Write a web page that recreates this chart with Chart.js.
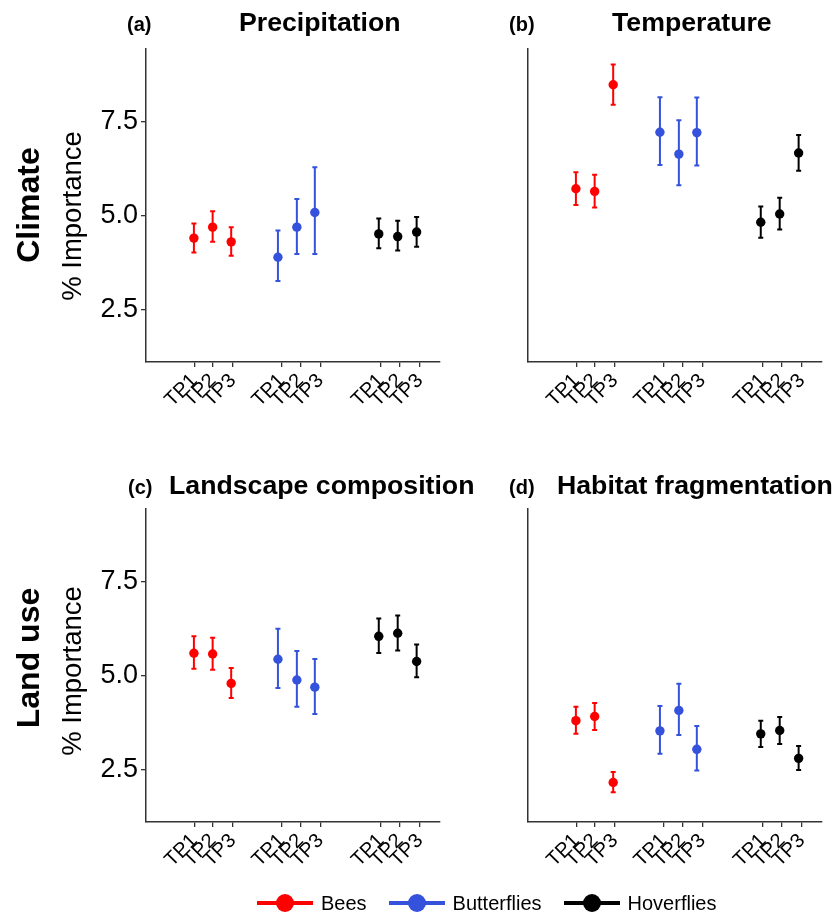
<!DOCTYPE html>
<html>
<head>
<meta charset="utf-8">
<script src="https://cdn.jsdelivr.net/npm/chart.js@4.4.1/dist/chart.umd.min.js"></script>
<style>
  body { margin: 0; background: #fff; }
  #page { position: relative; width: 835px; height: 913px; background: #fff; font-family: "Liberation Sans", Arial, sans-serif; color: #000; overflow: hidden; }
  canvas { position: absolute; }
  .txt { position: absolute; white-space: nowrap; line-height: 1; }
  .rot { position: absolute; white-space: nowrap; line-height: 1; transform: translate(-50%, -50%) rotate(-90deg); }
  #legend { position: absolute; left: 257px; top: 891px; display: flex; align-items: center; height: 24px; }
  .item { display: flex; align-items: center; margin-right: 22px; font-size: 20px; }
  .key { position: relative; width: 56px; height: 4px; margin-right: 8px; }
  .key span { position: absolute; left: 19px; top: -7px; width: 18px; height: 18px; border-radius: 50%; }
</style>
</head>
<body>
<div id="page">
  <canvas id="pa" width="460" height="440" style="left:0;top:0"></canvas>
  <canvas id="pb" width="375" height="440" style="left:460px;top:0"></canvas>
  <canvas id="pc" width="460" height="440" style="left:0;top:460px"></canvas>
  <canvas id="pd" width="375" height="440" style="left:460px;top:460px"></canvas>

  <div class="txt" style="left:127px;top:14px;font-size:20px;font-weight:bold">(a)</div>
  <div class="txt" style="left:239px;top:9px;font-size:26.7px;font-weight:bold">Precipitation</div>
  <div class="txt" style="left:509px;top:14px;font-size:20px;font-weight:bold">(b)</div>
  <div class="txt" style="left:612px;top:9px;font-size:26.7px;font-weight:bold">Temperature</div>
  <div class="txt" style="left:128px;top:477px;font-size:20px;font-weight:bold">(c)</div>
  <div class="txt" style="left:169px;top:472px;font-size:26.7px;font-weight:bold">Landscape composition</div>
  <div class="txt" style="left:509px;top:477px;font-size:20px;font-weight:bold">(d)</div>
  <div class="txt" style="left:557px;top:472px;font-size:26.7px;font-weight:bold">Habitat fragmentation</div>

  <div class="rot" style="left:28px;top:205px;font-size:32px;font-weight:bold">Climate</div>
  <div class="rot" style="left:72px;top:216px;font-size:27.5px">% Importance</div>
  <div class="rot" style="left:28px;top:658px;font-size:32px;font-weight:bold">Land use</div>
  <div class="rot" style="left:72px;top:671px;font-size:27.5px">% Importance</div>

  <div id="legend"></div>
</div>
<script>
const timePoints = ['TP1', 'TP2', 'TP3'];
const groups = ['Bees', 'Butterflies', 'Hoverflies'];
const groupColors = ['#ff0000', '#3452db', '#000000'];
const tickPos = [2.5, 3.47, 4.5, 7.02, 8.0, 9.03, 12.17, 13.15, 14.18];
const pointPos = [[2.48, 3.45, 4.41], [6.83, 7.81, 8.74], [12.05, 13.03, 14.01]];
const yTicks = [2.5, 5.0, 7.5];

// rows = Bees, Butterflies, Hoverflies ; cols = TP1..TP3
const precipMean = [[4.41, 4.70, 4.31], [3.90, 4.70, 5.09], [4.52, 4.45, 4.57]];
const precipLow  = [[4.03, 4.31, 3.94], [3.27, 3.99, 3.99], [4.14, 4.08, 4.18]];
const precipHigh = [[4.80, 5.12, 4.70], [4.61, 5.45, 6.29], [4.93, 4.87, 4.97]];

const tempMean = [[5.72, 5.65, 8.48], [7.22, 6.64, 7.21], [4.83, 5.05, 6.67]];
const tempLow  = [[5.29, 5.22, 7.95], [6.35, 5.81, 6.34], [4.42, 4.64, 6.20]];
const tempHigh = [[6.16, 6.09, 9.02], [8.15, 7.54, 8.14], [5.25, 5.48, 7.15]];

const landMean = [[5.60, 5.58, 4.80], [5.44, 4.89, 4.70], [6.05, 6.13, 5.38]];
const landLow  = [[5.19, 5.16, 4.41], [4.68, 4.18, 3.99], [5.61, 5.67, 4.96]];
const landHigh = [[6.05, 6.01, 5.21], [6.25, 5.66, 5.45], [6.52, 6.60, 5.83]];

const fragMean = [[3.81, 3.92, 2.17], [3.54, 4.08, 3.05], [3.46, 3.55, 2.81]];
const fragLow  = [[3.46, 3.56, 1.91], [2.93, 3.43, 2.49], [3.11, 3.19, 2.50]];
const fragHigh = [[4.18, 4.28, 2.45], [4.20, 4.79, 3.67], [3.81, 3.91, 3.14]];

// error bars drawn under the points
const errorBars = {
  id: 'errorBars',
  beforeDatasetsDraw(chart) {
    const { ctx, scales: { x, y } } = chart;
    chart.data.datasets.forEach(ds => {
      ctx.save();
      ctx.strokeStyle = ds.borderColor;
      ctx.lineWidth = 2;
      ds.data.forEach(p => {
        const px = x.getPixelForValue(p.x);
        const top = y.getPixelForValue(p.hi);
        const bot = y.getPixelForValue(p.lo);
        ctx.beginPath();
        ctx.moveTo(px, top); ctx.lineTo(px, bot);
        ctx.moveTo(px - 2.5, top); ctx.lineTo(px + 2.5, top);
        ctx.moveTo(px - 2.5, bot); ctx.lineTo(px + 2.5, bot);
        ctx.stroke();
      });
      ctx.restore();
    });
  }
};

function makePanel(id, mean, low, high, withYLabels) {
  const datasets = groups.map((g, i) => ({
    label: g,
    data: timePoints.map((t, j) => ({ x: pointPos[i][j], y: mean[i][j], lo: low[i][j], hi: high[i][j] })),
    backgroundColor: groupColors[i],
    borderColor: groupColors[i],
    pointRadius: 4.7,
    pointBorderWidth: 0
  }));
  new Chart(document.getElementById(id), {
    type: 'scatter',
    data: { datasets },
    plugins: [errorBars],
    options: {
      responsive: false,
      animation: false,
      layout: { padding: { top: 49, right: withYLabels ? 20 : 13, left: 0, bottom: 0 } },
      plugins: { legend: { display: false }, tooltip: { enabled: false } },
      scales: {
        x: {
          type: 'linear', min: 0, max: 15.22,
          afterBuildTicks: s => { s.ticks = tickPos.map(v => ({ value: v })); },
          afterFit: s => { s.height = 78; },
          grid: { drawOnChartArea: false, drawTicks: true, tickLength: 5, color: '#333', lineWidth: 1.3 },
          border: { display: true, color: '#333', width: 1.5 },
          ticks: {
            autoSkip: false, minRotation: 45, maxRotation: 45, padding: 2,
            color: '#000', font: { family: 'Liberation Sans', size: 20 },
            callback: (v, i) => timePoints[i % 3]
          }
        },
        y: {
          min: 1.12, max: 9.43,
          afterBuildTicks: s => { s.ticks = yTicks.map(v => ({ value: v })); },
          afterFit: s => { s.width = withYLabels ? 146 : 68; },
          grid: { drawOnChartArea: false, drawTicks: withYLabels, tickLength: 5, color: '#333', lineWidth: 1.3 },
          border: { display: true, color: '#333', width: 1.5 },
          ticks: {
            display: withYLabels, padding: 3,
            color: '#000', font: { family: 'Liberation Sans', size: 27 },
            callback: v => v.toFixed(1)
          }
        }
      }
    }
  });
}

makePanel('pa', precipMean, precipLow, precipHigh, true);
makePanel('pb', tempMean, tempLow, tempHigh, false);
makePanel('pc', landMean, landLow, landHigh, true);
makePanel('pd', fragMean, fragLow, fragHigh, false);

document.getElementById('legend').innerHTML = groups.map((g, i) => `
  <div class="item">
    <div class="key" style="background:${groupColors[i]}"><span style="background:${groupColors[i]}"></span></div>
    <div>${g}</div>
  </div>`).join('');
</script>
</body>
</html>
